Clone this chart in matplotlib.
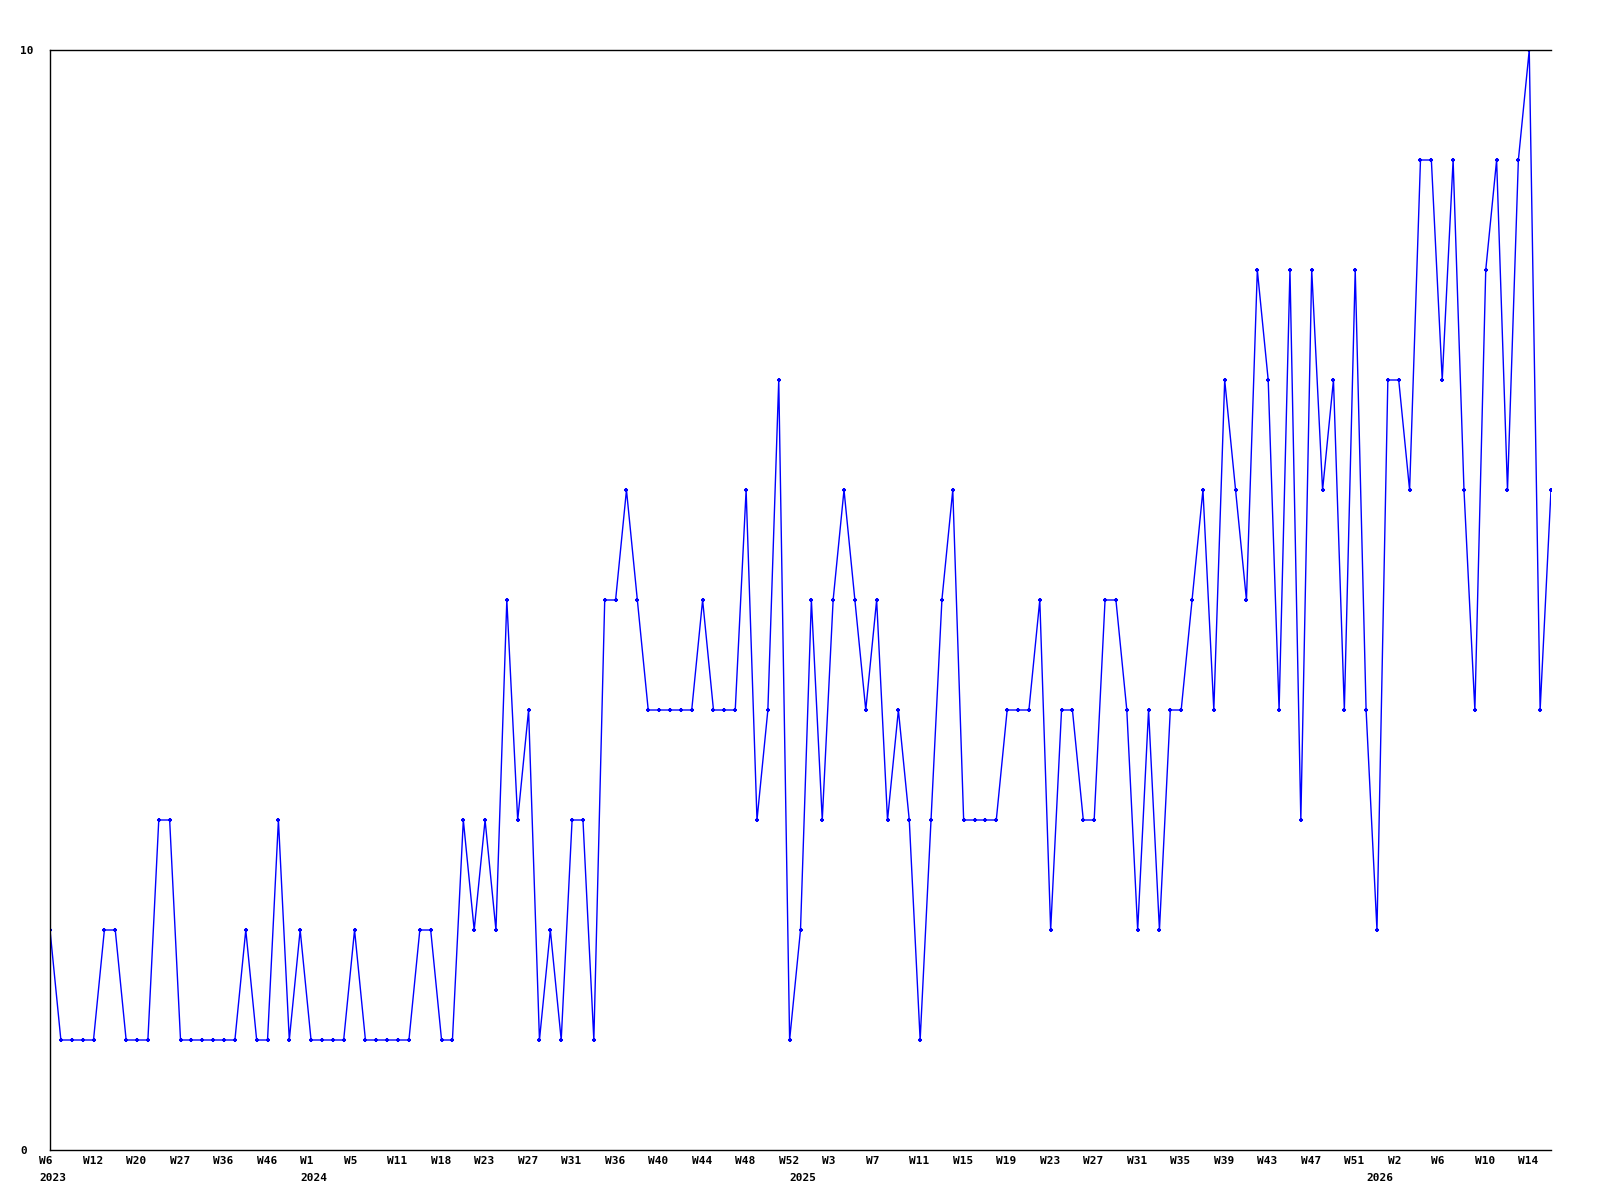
import matplotlib
matplotlib.use("Agg")
import matplotlib.pyplot as plt
from matplotlib.transforms import ScaledTranslation

# weekly counts, one point per recorded week
values = [
    2, 1, 1, 1, 1, 2, 2, 1, 1, 1, 3, 3, 1, 1, 1, 1, 1, 1, 2, 1,
    1, 3, 1, 2, 1, 1, 1, 1, 2, 1, 1, 1, 1, 1, 2, 2, 1, 1, 3, 2,
    3, 2, 5, 3, 4, 1, 2, 1, 3, 3, 1, 5, 5, 6, 5, 4, 4, 4, 4, 4,
    5, 4, 4, 4, 6, 3, 4, 7, 1, 2, 5, 3, 5, 6, 5, 4, 5, 3, 4, 3,
    1, 3, 5, 6, 3, 3, 3, 3, 4, 4, 4, 5, 2, 4, 4, 3, 3, 5, 5, 4,
    2, 4, 2, 4, 4, 5, 6, 4, 7, 6, 5, 8, 7, 4, 8, 3, 8, 6, 7, 4,
    8, 4, 2, 7, 7, 6, 9, 9, 7, 9, 6, 4, 8, 9, 6, 9, 10, 4, 6,
]

# a week label on every 4th point
week_labels = [
    "W6", "W12", "W20", "W27", "W36", "W46",
    "W1", "W5", "W11", "W18", "W23", "W27", "W31", "W36", "W40", "W44", "W48", "W52",
    "W3", "W7", "W11", "W15", "W19", "W23", "W27", "W31", "W35", "W39", "W43", "W47", "W51",
    "W2", "W6", "W10", "W14",
]
label_step = 4

# year markers at the first point of each year
year_points = [0, 24, 69, 122]
year_labels = ["2023", "2024", "2025", "2026"]

line_color = "#0000ff"
font = dict(family="DejaVu Sans Mono", weight="bold", size=8)


def main():
    fig = plt.figure(figsize=(16, 12), dpi=100)
    ax = fig.add_axes([50 / 1600, 50 / 1200, 1501 / 1600, 1100 / 1200])

    x = list(range(len(values)))
    ax.plot(x, values, color=line_color, lw=1.0, marker="+", ms=3.2, mew=1.5)

    ax.set_xlim(0, len(values) - 1)
    ax.set_ylim(0, 10)

    ax.spines["right"].set_visible(False)
    for side in ["left", "bottom", "top"]:
        ax.spines[side].set_linewidth(1.0)

    # y labels: only the extremes, left aligned at the figure edge
    ax.set_yticks([0, 10])
    ax.set_yticklabels(["0", "10"], fontdict=font, ha="left")
    ax.tick_params(axis="y", length=0, pad=21.6)

    # x labels: week names, shifted a bit to the left of their point
    ax.set_xticks(x[::label_step])
    ax.set_xticklabels(week_labels, fontdict=font, ha="left")
    ax.tick_params(axis="x", length=0, pad=4)
    shift = ScaledTranslation(-11 / 100, 0, fig.dpi_scale_trans)
    for lbl in ax.get_xticklabels():
        lbl.set_transform(lbl.get_transform() + shift)

    for idx, yr in zip(year_points, year_labels):
        ax.text(idx, 0, yr, transform=ax.get_xaxis_transform() + shift
                + ScaledTranslation(0, -23 / 100, fig.dpi_scale_trans),
                ha="left", va="top", **font)

    fig.savefig("out.png", dpi=100)


if __name__ == "__main__":
    main()
